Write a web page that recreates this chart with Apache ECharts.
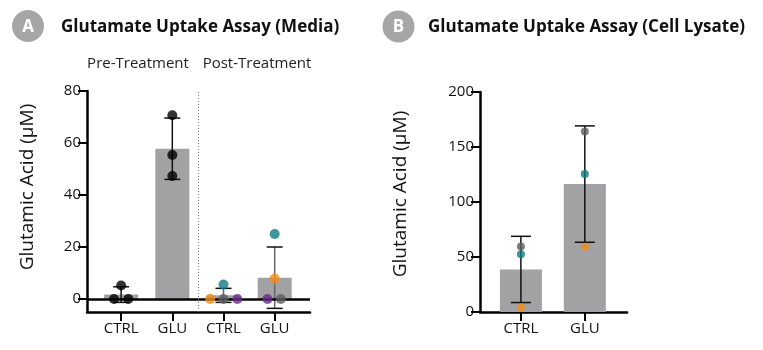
<!DOCTYPE html>
<html>
<head>
<meta charset="utf-8">
<script src="https://cdn.jsdelivr.net/npm/echarts@6/dist/echarts.min.js"></script>
<style>
  html, body { margin: 0; background: #fff; }
  #chart { width: 763px; height: 350px; }
</style>
</head>
<body>
<div id="chart"></div>
<script>
// panel A - media (pre / post treatment)
const mediaCategories = ['CTRL', 'GLU', 'CTRL', 'GLU']
const mediaMeans = [1.7, 57.8, 1.4, 8.2]
const mediaSD = [3.0, 11.8, 2.7, 11.8]
// replicate points per group
const mediaPoints = [
  [5.2, 0, 0],
  [70.7, 55.4, 47.3],
  [5.6, 0, 0, 0],
  [25, 7.9, 0, 0]
]
const mediaPointColors = [
  ['#000', '#000', '#000'],
  ['#000', '#000', '#000'],
  ['#0e7b84', '#f28c18', '#5e5e5e', '#682c8e'],
  ['#0e7b84', '#f28c18', '#682c8e', '#5e5e5e']
]
// horizontal spread of the dots so they don't overlap (in category units)
const mediaJitter = [
  [0, -0.14, 0.14],
  [0, 0, 0],
  [0, -0.26, 0, 0.27],
  [0, 0, -0.14, 0.12]
]
const mediaTicks = [0, 20, 40, 60, 80]

// panel B - cell lysate
const lysateCategories = ['CTRL', 'GLU']
const lysateMeans = [38.7, 116.3]
const lysateSD = [30.1, 52.9]
const lysatePoints = [
  [59.6, 52.4, 4.2],
  [164, 125.4, 59.4]
]
const lysatePointColors = ['#5e5e5e', '#0e7b84', '#f28c18']
const lysateTicks = [0, 50, 100, 150, 200]

const FONT = 'Open Sans'
const BAR = '#a2a2a4'

function scatterData(points, colors, jitter) {
  const out = []
  points.forEach((grp, i) => {
    grp.forEach((v, j) => {
      const c = Array.isArray(colors[i]) ? colors[i][j] : colors[j]
      out.push({ value: [i + 1 + (jitter ? jitter[i][j] : 0), v], itemStyle: { color: c } })
    })
  })
  return out
}

// mean ± SD whiskers with caps
function errorSeries(axisIdx, means, sds, stems, capHalf) {
  return {
    type: 'custom',
    xAxisIndex: axisIdx,
    yAxisIndex: axisIdx,
    z: 4,
    silent: true,
    data: means.map((m, i) => [i + 1, m - sds[i], m + sds[i], i]),
    renderItem(params, api) {
      const x = api.value(0)
      const lo = api.coord([x, api.value(1)])
      const hi = api.coord([x, api.value(2)])
      const stem = stems[api.value(3)]
      return {
        type: 'group',
        children: [
          { type: 'line', shape: { x1: lo[0], y1: lo[1], x2: hi[0], y2: hi[1] }, style: { stroke: stem, lineWidth: 1.5 } },
          { type: 'line', shape: { x1: hi[0] - capHalf, y1: hi[1], x2: hi[0] + capHalf, y2: hi[1] }, style: { stroke: '#111', lineWidth: 1.5 } },
          { type: 'line', shape: { x1: lo[0] - capHalf, y1: lo[1], x2: lo[0] + capHalf, y2: lo[1] }, style: { stroke: '#111', lineWidth: 1.5 } }
        ]
      }
    }
  }
}

function xAxisFor(gridIndex, cats, min, max) {
  const vals = cats.map((c, i) => i + 1)
  return {
    type: 'value', gridIndex, min, max,
    splitLine: { show: false },
    axisLine: { onZero: false, lineStyle: { color: '#000', width: 2.5 } },
    axisTick: { customValues: vals, length: 9, lineStyle: { color: '#000', width: 2 } },
    axisLabel: {
      customValues: vals, margin: 9, color: '#111', fontSize: 15, fontFamily: FONT,
      formatter: v => cats[Math.round(v) - 1]
    }
  }
}

function yAxisFor(gridIndex, min, max, ticks) {
  return {
    type: 'value', gridIndex, min, max,
    splitLine: { show: false },
    axisLine: { show: true, lineStyle: { color: '#000', width: 2.5 } },
    axisTick: { show: true, customValues: ticks, length: 9, lineStyle: { color: '#000', width: 2 } },
    axisLabel: { customValues: ticks, margin: 6, color: '#111', fontSize: 15, fontFamily: FONT }
  }
}

const chart = echarts.init(document.getElementById('chart'))

chart.setOption({
  animation: false,
  textStyle: { fontFamily: FONT },
  grid: [
    { left: 87, top: 91, width: 223, height: 221 },
    { left: 480, top: 92, width: 147, height: 220 }
  ],
  xAxis: [
    xAxisFor(0, mediaCategories, 0.333, 4.69),
    xAxisFor(1, lysateCategories, 0.36, 2.66)
  ],
  yAxis: [
    yAxisFor(0, -5, 80, mediaTicks),
    yAxisFor(1, 0, 200, lysateTicks)
  ],
  series: [
    {
      type: 'bar', xAxisIndex: 0, yAxisIndex: 0, barWidth: 34,
      itemStyle: { color: BAR },
      data: mediaMeans.map((m, i) => [i + 1, m]),
      markLine: {
        silent: true, symbol: ['none', 'none'], label: { show: false },
        data: [
          { yAxis: 0, lineStyle: { color: '#000', width: 2.5, type: 'solid' } },
          { xAxis: 2.5, lineStyle: { color: '#777', width: 1, type: [1, 2] } }
        ]
      }
    },
    errorSeries(0, mediaMeans, mediaSD, ['#111', '#111', '#666', '#666'], 8),
    {
      type: 'scatter', xAxisIndex: 0, yAxisIndex: 0, symbolSize: 10, z: 6,
      data: scatterData(mediaPoints, mediaPointColors, mediaJitter)
    },
    {
      type: 'bar', xAxisIndex: 1, yAxisIndex: 1, barWidth: 42,
      itemStyle: { color: BAR },
      data: lysateMeans.map((m, i) => [i + 1, m])
    },
    errorSeries(1, lysateMeans, lysateSD, ['#111', '#111'], 10),
    {
      type: 'scatter', xAxisIndex: 1, yAxisIndex: 1, symbolSize: 8, z: 6,
      data: scatterData(lysatePoints, lysatePointColors, null)
    }
  ],
  graphic: [
    { type: 'circle', shape: { cx: 28, cy: 26, r: 16 }, style: { fill: '#a6a6a6' } },
    { type: 'text', x: 28, y: 27, style: { text: 'A', fill: '#fff', font: 'bold 17px "Open Sans"', align: 'center', verticalAlign: 'middle' } },
    { type: 'text', x: 61, y: 27, style: { text: 'Glutamate Uptake Assay (Media)', fill: '#111', font: 'bold 17px "Open Sans"', verticalAlign: 'middle' } },
    { type: 'circle', shape: { cx: 398.5, cy: 26.5, r: 16 }, style: { fill: '#a6a6a6' } },
    { type: 'text', x: 398.5, y: 27.5, style: { text: 'B', fill: '#fff', font: 'bold 17px "Open Sans"', align: 'center', verticalAlign: 'middle' } },
    { type: 'text', x: 428, y: 27, style: { text: 'Glutamate Uptake Assay (Cell Lysate)', fill: '#111', font: 'bold 17px "Open Sans"', verticalAlign: 'middle' } },
    { type: 'text', x: 138, y: 64, style: { text: 'Pre-Treatment', fill: '#222', font: '15px "Open Sans"', align: 'center', verticalAlign: 'middle' } },
    { type: 'text', x: 257, y: 64, style: { text: 'Post-Treatment', fill: '#222', font: '15px "Open Sans"', align: 'center', verticalAlign: 'middle' } },
    { type: 'text', x: 28, y: 187, rotation: Math.PI / 2, style: { text: 'Glutamic Acid (µM)', fill: '#111', font: '19px "Open Sans"', align: 'center', verticalAlign: 'middle' } },
    { type: 'text', x: 401, y: 194, rotation: Math.PI / 2, style: { text: 'Glutamic Acid (µM)', fill: '#111', font: '19px "Open Sans"', align: 'center', verticalAlign: 'middle' } }
  ]
})
</script>
</body>
</html>
